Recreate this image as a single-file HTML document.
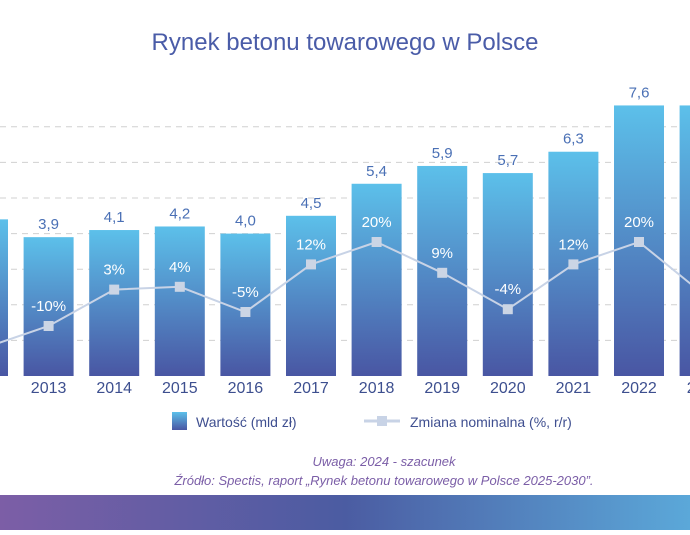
<!DOCTYPE html>
<html><head><meta charset="utf-8"><style>
body{margin:0;width:690px;height:530px;overflow:hidden;background:#fff;font-family:"Liberation Sans",sans-serif}
</style></head><body>
<svg width="690" height="530">
<defs>
<linearGradient id="bg" x1="0" y1="0" x2="0" y2="1"><stop offset="0" stop-color="#5cc0ea"/><stop offset="1" stop-color="#4956a3"/></linearGradient>
<linearGradient id="band" x1="0" y1="0" x2="1" y2="0"><stop offset="0" stop-color="#7c5ea6"/><stop offset="0.5" stop-color="#4b5ca2"/><stop offset="1" stop-color="#5ba8d9"/></linearGradient>
</defs>
<text x="345" y="50" text-anchor="middle" font-size="24" fill="#4a5ca8">Rynek betonu towarowego w Polsce</text>
<g id="grid"></g><g id="bars"></g><g id="line"></g><g id="xlabels"></g>
<g>
<rect x="172" y="412" width="15" height="18" fill="url(#bg)"/>
<text x="196" y="427" font-size="14" fill="#3f4f90">Wartość (mld zł)</text>
<line x1="364" y1="421" x2="400" y2="421" stroke="#c8d3e6" stroke-width="3"/>
<rect x="377" y="416" width="10" height="10" fill="#c8d3e6"/>
<text x="410" y="427" font-size="14" fill="#3f4f90">Zmiana nominalna (%, r/r)</text>
</g>
<text x="384" y="466" text-anchor="middle" font-size="13" font-style="italic" fill="#7b5ea7">Uwaga: 2024 - szacunek</text>
<text x="384" y="485" text-anchor="middle" font-size="13" font-style="italic" fill="#7b5ea7">Źródło: Spectis, raport „Rynek betonu towarowego w Polsce 2025-2030”.</text>
<rect x="0" y="495" width="690" height="35" fill="url(#band)"/>
</svg>
<script>
const years=["2012","2013","2014","2015","2016","2017","2018","2019","2020","2021","2022","2023"];
const values=[4.4,3.9,4.1,4.2,4.0,4.5,5.4,5.9,5.7,6.3,7.6,7.6];
const changes=[-18,-10,3,4,-5,12,20,9,-4,12,20,1];
const valueLabels=["4,4","3,9","4,1","4,2","4,0","4,5","5,4","5,9","5,7","6,3","7,6","7,6"];
const NS="http://www.w3.org/2000/svg";
const x=i=>-17+i*65.6;
const yv=v=>376-v*35.6;
const yp=p=>298-p*2.8;
function mk(t,a,p){const e=document.createElementNS(NS,t);for(const k in a)e.setAttribute(k,a[k]);p.appendChild(e);return e;}
const G=document.getElementById('grid'),B=document.getElementById('bars'),L=document.getElementById('line'),X=document.getElementById('xlabels');
for(let g=1;g<=7;g++){const l=mk('line',{x1:0,x2:690,y1:yv(g),y2:yv(g),stroke:'#d0d0d0','stroke-dasharray':'6,5'},G);

}
years.forEach((yr,i)=>{
const r=mk('rect',{x:x(i)-25,y:yv(values[i]),width:50,height:376-yv(values[i]),fill:'url(#bg)'},B);


const t=mk('text',{x:x(i),y:yv(values[i])-8,'text-anchor':'middle','font-size':15,fill:'#4a70b5'},B);t.textContent=valueLabels[i];


const xl=mk('text',{x:x(i),y:393,'text-anchor':'middle','font-size':16,fill:'#3d4f8f'},X);xl.textContent=yr;


});
const pts=changes.map((c,i)=>x(i)+','+yp(c)).join(' ');
const pl=mk('polyline',{points:pts,fill:'none',stroke:'#c8d3e6','stroke-width':2},L);


changes.forEach((c,i)=>{
const m=mk('rect',{x:x(i)-5,y:yp(c)-5,width:10,height:10,fill:'#cbd5e5'},L);


const t=mk('text',{x:x(i),y:yp(c)-15,'text-anchor':'middle','font-size':15,fill:'#fff'},L);t.textContent=c+'%';


});
</script>
</body></html>
